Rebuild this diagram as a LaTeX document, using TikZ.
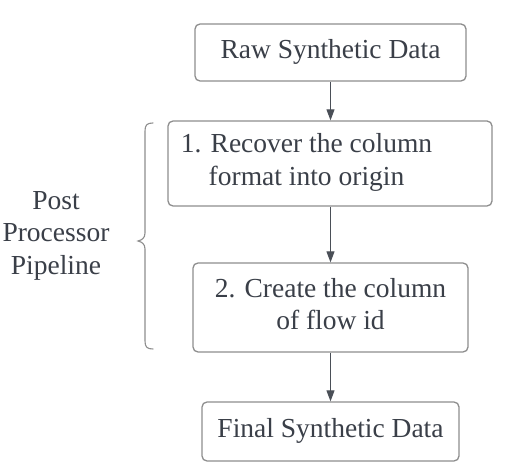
\documentclass[tikz,border=0pt]{standalone}
\usepackage{fontspec}
\setmainfont{Liberation Serif}
\usetikzlibrary{arrows.meta}
\definecolor{txtc}{HTML}{3A3F48}
\definecolor{brd}{HTML}{8E8E8E}
\definecolor{arr}{HTML}{4A4F57}
\tikzset{
  box/.style={draw=brd, line width=1.3pt, rounded corners=5pt, fill=white, inner sep=0pt},
  txt/.style={text=txtc, align=center, inner sep=0pt, font=\fontsize{27.5}{32.5}\selectfont},
  conn/.style={draw=arr, line width=1pt, -{Triangle[length=11pt,width=8pt]}},
}
\begin{document}
\begin{tikzpicture}[x=1pt,y=-1pt]
\useasboundingbox[fill=white] (0,0) rectangle (509,473);
% boxes
\node[box, minimum width=271pt, minimum height=57pt] (b1) at (330.5,52.5) {};
\node[txt] (t1) at (330.5,52.5) {\strut Raw Synthetic Data};
\node[box, minimum width=324pt, minimum height=85pt] (b2) at (330,163.5) {};
\node[txt] (t2) at (306.5,162.5) {\strut 1. Recover the column\\\strut format into origin};
\node[box, minimum width=275pt, minimum height=89pt] (b3) at (330.5,307.5) {};
\node[txt] (t3) at (330.5,307) {\strut 2. Create the column\\\strut of flow id};
\node[box, minimum width=257pt, minimum height=59pt] (b4) at (330.5,431.5) {};
\node[txt] (t4) at (330.5,431) {\strut Final Synthetic Data};
% label
\node[txt] (lbl) at (56,235.5) {\strut Post\\\strut Processor\\\strut Pipeline};
% connectors
\draw[conn] (b1.south) -- (b2.north -| b1.south);
\draw[conn] (b2.south -| b3.north) -- (b3.north);
\draw[conn] (b3.south) -- (b4.north -| b3.south);
% brace
\draw[brd, line width=1.1pt, line cap=round]
  (153,123) .. controls (147,123) and (145,125) .. (145,131)
  -- (145,233) .. controls (145,238) and (142,240) .. (138,241)
  .. controls (142,242) and (145,244) .. (145,249)
  -- (145,341) .. controls (145,347) and (147,349) .. (153,349);
\end{tikzpicture}
\end{document}
